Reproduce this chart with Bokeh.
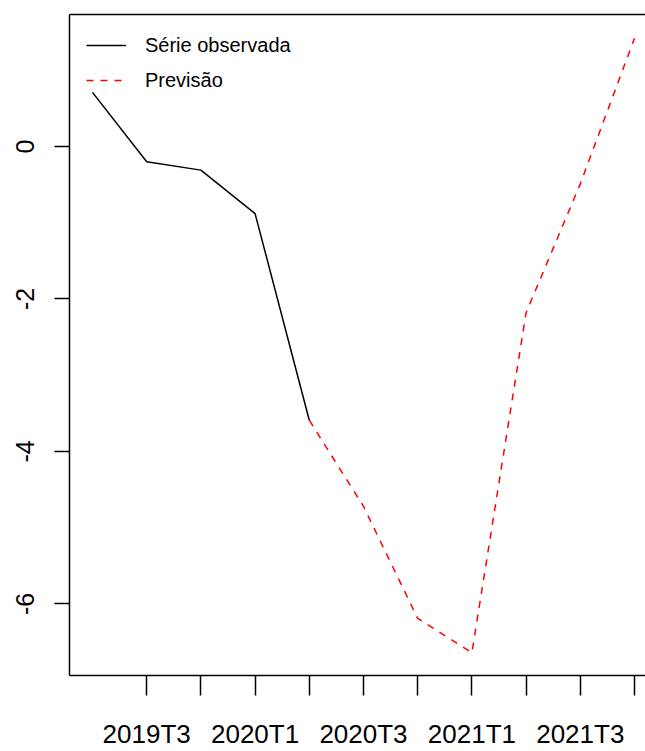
from bokeh.plotting import figure
from bokeh.models import Range1d, FixedTicker, LinearAxis, Legend, LegendItem, ColumnDataSource
from bokeh.embed import file_html
from bokeh.resources import INLINE

# ---- data ----
quarters = ["2019T2", "2019T3", "2019T4", "2020T1", "2020T2", "2020T3",
            "2020T4", "2021T1", "2021T2", "2021T3", "2021T4"]
observed = [0.71, -0.20, -0.31, -0.88, -3.59]
forecast = [-3.59, -4.72, -6.19, -6.64, -2.18, -0.49, 1.42]
x_tick_labels = ["2019T3", "2020T1", "2020T3", "2021T1", "2021T3"]
y_ticks = [-6, -4, -2, 0]

obs_idx = list(range(len(observed)))
fc_idx = list(range(len(observed) - 1, len(observed) - 1 + len(forecast)))

src_obs = ColumnDataSource(dict(x=obs_idx, y=observed))
src_fc = ColumnDataSource(dict(x=fc_idx, y=forecast))

p = figure(width=645, height=751, output_backend="svg", toolbar_location=None,
           x_range=Range1d(-0.424, 10.203), y_range=Range1d(-6.938, 1.731),
           x_axis_type=None, y_axis_type=None,
           min_border_left=69, min_border_right=0, min_border_top=14, min_border_bottom=76)
p.outline_line_color = None
p.background_fill_color = "white"
p.border_fill_color = "white"

# bottom axis
x_ticks = list(range(1, len(quarters)))
overrides = {i: (quarters[i] if quarters[i] in x_tick_labels else "") for i in x_ticks}
xaxis = LinearAxis(ticker=FixedTicker(ticks=x_ticks), major_label_overrides=overrides,
                   axis_line_color="black", axis_line_width=1.5,
                   major_tick_line_color="black", major_tick_line_width=1.5,
                   major_tick_out=20, major_tick_in=0, minor_tick_out=0, minor_tick_in=0,
                   major_label_standoff=23,
                   major_label_text_font="Liberation Sans",
                   major_label_text_font_size="26px", major_label_text_color="black")
p.add_layout(xaxis, "below")

# left axis
yaxis = LinearAxis(ticker=FixedTicker(ticks=y_ticks),
                   major_label_overrides={v: str(v) for v in y_ticks},
                   major_label_orientation="vertical",
                   axis_line_color="black", axis_line_width=1.5,
                   major_tick_line_color="black", major_tick_line_width=1.5,
                   major_tick_out=15, major_tick_in=0, minor_tick_out=0, minor_tick_in=0,
                   major_label_standoff=20,
                   major_label_text_font="Liberation Sans",
                   major_label_text_font_size="25px", major_label_text_color="black")
p.add_layout(yaxis, "left")

# top border line
top = LinearAxis(ticker=FixedTicker(ticks=[]), axis_line_color="black", axis_line_width=1.5,
                 major_tick_out=0, major_tick_in=0, minor_tick_out=0, minor_tick_in=0,
                 major_label_standoff=0, major_label_text_font_size="0px")
p.add_layout(top, "above")

r_obs = p.line("x", "y", source=src_obs, line_color="black", line_width=1.5)
r_fc = p.line("x", "y", source=src_fc, line_color="red", line_width=1.5, line_dash="7 7")

legend = Legend(items=[LegendItem(label="Série observada", renderers=[r_obs]),
                       LegendItem(label="Previsão", renderers=[r_fc])],
                location="top_left", margin=17, padding=0, spacing=7,
                glyph_width=40, glyph_height=28, label_height=28, label_standoff=19,
                label_text_font="Liberation Sans", label_text_font_size="20px",
                label_text_color="black",
                border_line_color=None, background_fill_alpha=0)
p.add_layout(legend)

open("out.html", "w").write(file_html(p, INLINE))
